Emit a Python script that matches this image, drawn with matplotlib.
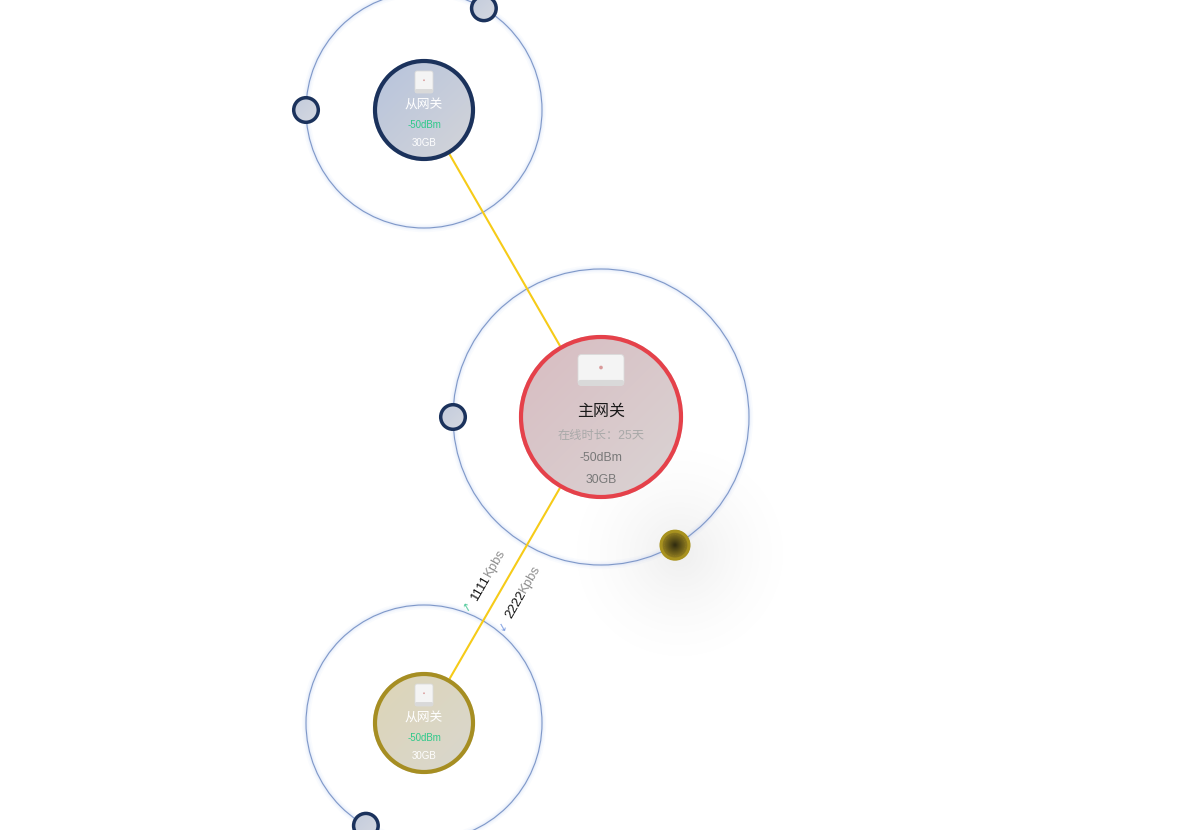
import matplotlib
matplotlib.use("Agg")
import matplotlib.pyplot as plt
import numpy as np
from matplotlib.patches import Circle, FancyBboxPatch
from matplotlib.colors import to_rgb

plt.rcParams["font.family"] = ["Liberation Sans", "Noto Sans CJK SC", "DejaVu Sans"]

W, H = 1199, 830

# nodes: name, centre, node radius, orbit radius, border colour, fill gradient
NODE_NAMES = ["从网关", "主网关", "从网关"]
NODE_X = [424, 601, 424]
NODE_Y = [110, 417, 723]
NODE_R = [51, 82, 51]
ORBIT_R = [118, 148, 118]
NODE_EDGE = ["#1b325c", "#e5414a", "#a68e22"]
NODE_FILL_A = ["#b6c3dc", "#d8bcc1", "#ddd5b6"]
NODE_FILL_B = ["#d4d5d9", "#dad4d4", "#d9d7cf"]
SIGNAL = ["-50dBm", "-50dBm", "-50dBm"]
STORAGE = ["30GB", "30GB", "30GB"]
ONLINE = "在线时长：25天"

# links: (from node, to node)
LINKS = [(0, 1), (1, 2)]
UP_RATE = "1111"
DOWN_RATE = "2222"
RATE_UNIT = "Kpbs"

# satellites on orbits: node index, angle in degrees (screen, clockwise from +x)
SAT_NODE = [0, 0, 1, 1, 2]
SAT_ANGLE = [180, -59.5, 180, 60, 119.5]
SAT_KIND = ["navy", "navy", "navy", "gold", "navy"]

fig = plt.figure(figsize=(W / 100, H / 100), dpi=100)
ax = fig.add_axes([0, 0, 1, 1])
ax.axis("off")


def grad_disc(cx, cy, r, c1, c2, z, radial=False):
    n = 120
    xs = np.linspace(-1, 1, n)
    X, Y = np.meshgrid(xs, xs)
    if radial:
        t = np.clip(np.sqrt(X ** 2 + Y ** 2), 0, 1)
    else:
        t = np.clip((X + Y + 2) / 4, 0, 1)
    a, b = np.array(to_rgb(c1)), np.array(to_rgb(c2))
    img = a[None, None, :] * (1 - t[..., None]) + b[None, None, :] * t[..., None]
    im = ax.imshow(img, extent=(cx - r, cx + r, cy + r, cy - r), origin="upper",
                   zorder=z, interpolation="bilinear")
    clip = Circle((cx, cy), r, transform=ax.transData)
    im.set_clip_path(clip)


def soft_glow(cx, cy, r, color, amax, z):
    n = 200
    xs = np.linspace(-1, 1, n)
    X, Y = np.meshgrid(xs, xs)
    d = np.sqrt(X ** 2 + Y ** 2)
    alpha = amax * np.clip(1 - d, 0, 1) ** 1.6
    rgba = np.zeros((n, n, 4))
    rgba[..., :3] = to_rgb(color)
    rgba[..., 3] = alpha
    ax.imshow(rgba, extent=(cx - r, cx + r, cy + r, cy - r), origin="upper",
              zorder=z, interpolation="bilinear")


# orbits with faint blue glow
for cx, cy, orb in zip(NODE_X, NODE_Y, ORBIT_R):
    for lw, al in [(6, 0.03), (3.5, 0.05), (1.8, 0.07)]:
        ax.add_patch(Circle((cx, cy), orb, fill=False, ec="#5f86e8", lw=lw, alpha=al, zorder=1))
    ax.add_patch(Circle((cx, cy), orb, fill=False, ec="#7f98c8", lw=0.8, zorder=2))

# links
for a, b in LINKS:
    ax.plot([NODE_X[a], NODE_X[b]], [NODE_Y[a], NODE_Y[b]], color="#f6cb18", lw=1.5, zorder=3)

# nodes
for i in range(3):
    cx, cy, r = NODE_X[i], NODE_Y[i], NODE_R[i]
    grad_disc(cx, cy, r, NODE_FILL_A[i], NODE_FILL_B[i], 4)
    lw = 3.0 if i == 1 else 3.0
    ax.add_patch(Circle((cx, cy), r - 2, fill=False, ec=NODE_EDGE[i], lw=lw, zorder=5))

# satellites
for ni, ang, kind in zip(SAT_NODE, SAT_ANGLE, SAT_KIND):
    cx = NODE_X[ni] + ORBIT_R[ni] * np.cos(np.radians(ang))
    cy = NODE_Y[ni] + ORBIT_R[ni] * np.sin(np.radians(ang))
    if kind == "navy":
        grad_disc(cx, cy, 13.5, "#c2cbdc", "#d6d9e1", 6)
        ax.add_patch(Circle((cx, cy), 12.3, fill=False, ec="#1b325c", lw=2.5, zorder=7))
    else:
        soft_glow(cx + 5, cy + 8, 115, "#9a9a9a", 0.16, 0.5)
        grad_disc(cx, cy, 15, "#2e2a10", "#a38c22", 6, radial=True)
        ax.add_patch(Circle((cx, cy), 14, fill=False, ec="#a8921f", lw=2.2, zorder=7))
        ax.add_patch(Circle((cx, cy), 10.5, fill=False, ec="#8a7620", lw=0.5,
                            ls=(0, (2, 1.5)), zorder=7))


def device_icon(cx, cy, w, h, z=8):
    ax.add_patch(FancyBboxPatch((cx - w / 2, cy - h / 2), w, h,
                                boxstyle="round,pad=0,rounding_size=%g" % (min(w, h) * 0.12),
                                fc="#f4f4f4", ec="#dadada", lw=0.6, zorder=z))
    ax.add_patch(FancyBboxPatch((cx - w / 2, cy + h / 2 - h * 0.18), w, h * 0.18,
                                boxstyle="round,pad=0,rounding_size=%g" % (min(w, h) * 0.08),
                                fc="#d9d9d9", ec="none", zorder=z + 0.1))
    ax.add_patch(Circle((cx, cy - h * 0.08), max(w, h) * 0.04, fc="#d99a9a", ec="none", zorder=z + 0.2))


# node texts
for i in range(3):
    cx, cy = NODE_X[i], NODE_Y[i]
    if i == 1:
        device_icon(cx, cy - 47, 46, 31)
        ax.text(cx, cy - 6, NODE_NAMES[i], fontsize=11.5, color="#1a1a1a", ha="center", va="center", zorder=9)
        ax.text(cx, cy + 19, ONLINE, fontsize=8.8, color="#a9a9a9", ha="center", va="center", zorder=9)
        ax.text(cx, cy + 41, SIGNAL[i], fontsize=8.8, color="#787878", ha="center", va="center", zorder=9)
        ax.text(cx, cy + 63, STORAGE[i], fontsize=8.8, color="#787878", ha="center", va="center", zorder=9)
    else:
        device_icon(cx, cy - 28, 18, 22)
        ax.text(cx, cy - 4, NODE_NAMES[i], fontsize=9.2, color="white", ha="center", va="center", zorder=9)
        ax.text(cx, cy + 15, SIGNAL[i], fontsize=7, color="#2ec98a", ha="center", va="center", zorder=9)
        ax.text(cx, cy + 33, STORAGE[i], fontsize=7, color="white", ha="center", va="center", zorder=9)

# link rate labels along the lower link
a, b = LINKS[1]
rot = np.degrees(np.arctan2(NODE_Y[b] - NODE_Y[a], NODE_X[a] - NODE_X[b]))
for (sx, sy), num, arrow, acol, (ax_, ay_) in [
        ((488, 576), UP_RATE, "↑", "#4fc99a", (467, 607)),
        ((523, 592), DOWN_RATE, "↓", "#7a9be0", (503, 627))]:
    ax.text(sx, sy, num, fontsize=9.5, color="#111111", rotation=rot, rotation_mode="anchor",
            ha="right", va="center", zorder=9)
    ax.text(sx, sy, RATE_UNIT, fontsize=9.5, color="#8f8f8f", rotation=rot, rotation_mode="anchor",
            ha="left", va="center", zorder=9)
    ax.text(ax_, ay_, arrow, fontsize=8, color=acol, rotation=30, ha="center", va="center",
            family=["DejaVu Sans"], zorder=9)

ax.set_xlim(0, W)
ax.set_ylim(H, 0)
ax.set_aspect("auto")
fig.savefig("out.png", dpi=100, facecolor="white")
